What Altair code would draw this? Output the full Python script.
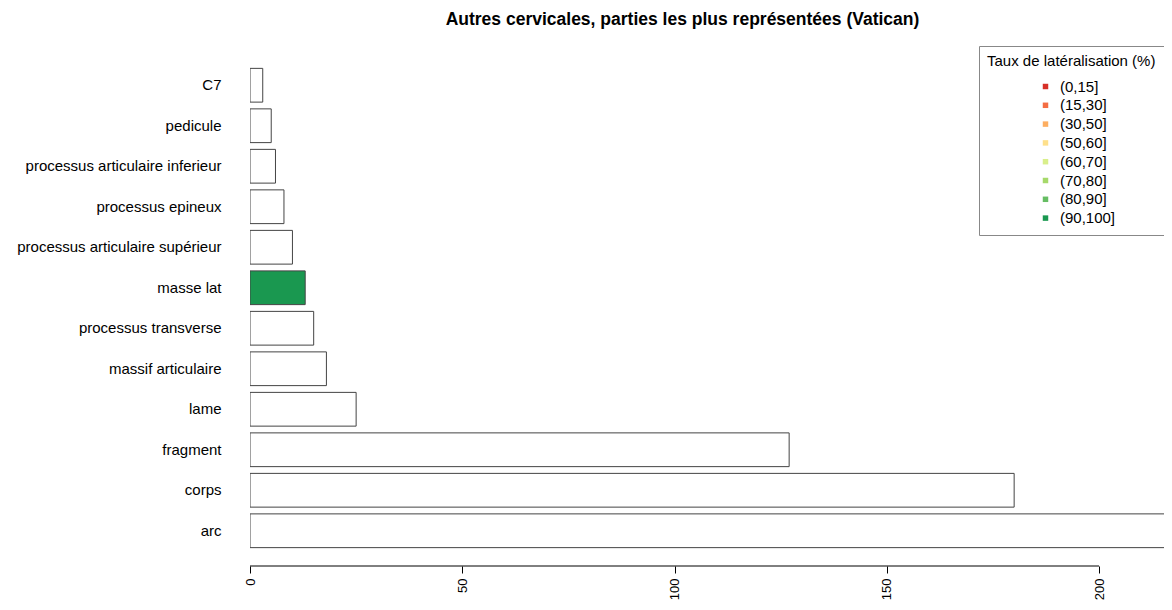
import altair as alt
import pandas as pd

parts = ["C7", "pedicule", "processus articulaire inferieur", "processus epineux",
         "processus articulaire supérieur", "masse lat", "processus transverse",
         "massif articulaire", "lame", "fragment", "corps", "arc"]
counts = [3, 5, 6, 8, 10, 13, 15, 18, 25, 127, 180, 230]
classes = ["NA", "NA", "NA", "NA", "NA", "(90,100]", "NA", "NA", "NA", "NA", "NA", "NA"]

legend_classes = ["(0,15]", "(15,30]", "(30,50]", "(50,60]", "(60,70]", "(70,80]", "(80,90]", "(90,100]"]
legend_colors = ["#d73027", "#f46d43", "#fdae61", "#fee08b", "#d9ef8b", "#a6d96a", "#66bd63", "#1a9850"]

tick_values = [0, 50, 100, 150, 200]

df = pd.DataFrame({"partie": parts, "n": counts, "classe": classes})

FONT = "Liberation Sans"
W, H = 914, 486

xscale = alt.Scale(domain=[0, 215.3], nice=False, zero=True)

bars = alt.Chart(df).mark_bar(stroke="#444444", strokeWidth=1, clip=True).encode(
    y=alt.Y("partie:N", sort=parts, title=None,
            scale=alt.Scale(paddingInner=0.1667, paddingOuter=0.0833, round=False),
            axis=alt.Axis(domain=False, ticks=False, labelPadding=29, labelLimit=0,
                          labelFontSize=15, labelFont=FONT, labelColor="#000000")),
    x=alt.X("n:Q", scale=xscale, title=None,
            axis=alt.Axis(values=tick_values, domain=False, grid=False, tickSize=7,
                          tickColor="#000000", offset=15, labelAngle=270,
                          labelAlign="right", labelBaseline="middle", labelPadding=5,
                          labelFontSize=13, labelFont=FONT, labelColor="#000000")),
    fill=alt.Fill("classe:N",
                  scale=alt.Scale(domain=legend_classes + ["NA"], range=legend_colors + ["#ffffff"]),
                  legend=alt.Legend(values=legend_classes, title="Taux de latéralisation (%)",
                                    orient="none", legendX=729, legendY=-19,
                                    titleFont=FONT, titleFontSize=15, titleFontWeight="normal",
                                    titleColor="#000000", titlePadding=10,
                                    labelFont=FONT, labelFontSize=15, labelColor="#000000",
                                    symbolType="square", symbolSize=30, symbolStrokeWidth=0,
                                    symbolOffset=51, labelOffset=7, rowPadding=2.8,
                                    padding=8, strokeColor="#888888", fillColor="#ffffff",
                                    cornerRadius=0)),
)

axis_line = alt.Chart(pd.DataFrame({"a": [tick_values[0]], "b": [tick_values[-1]]})).mark_rule(
    color="#000000", strokeWidth=1
).encode(
    x=alt.X("a:Q", scale=xscale),
    x2="b:Q",
    y=alt.value(H + 15),
)

chart = alt.layer(bars, axis_line).properties(
    width=W, height=H,
    title=alt.TitleParams("Autres cervicales, parties les plus représentées (Vatican)",
                          font=FONT, fontSize=17.5, fontWeight="bold", color="#000000",
                          anchor="middle", dx=-24.5, offset=17),
    autosize=alt.AutoSizeParams(type="none"),
    padding={"left": 242, "top": 57, "right": 0, "bottom": 51},
).configure_view(stroke=None)

chart.save("out.html", embed_options={"renderer": "svg", "actions": False})
